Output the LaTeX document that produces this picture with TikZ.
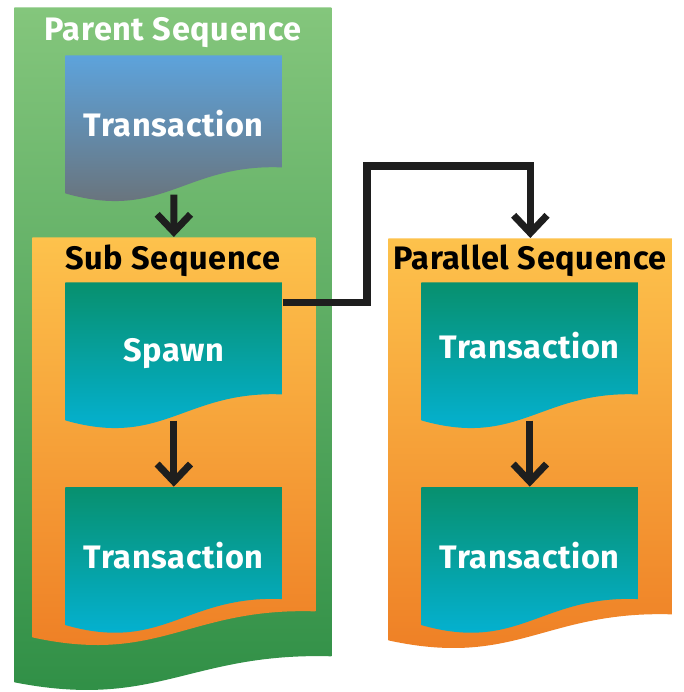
\documentclass[tikz,border=0pt]{standalone}
\usepackage{fontspec}
\setmainfont{Fira Sans}[LetterSpace=2]
\usetikzlibrary{calc}
\usetikzlibrary{positioning}
\usetikzlibrary{arrows.meta}

\definecolor{grnTop}{HTML}{84C67C}
\definecolor{grnBot}{HTML}{2E8E45}
\definecolor{orgTop}{HTML}{FDC24C}
\definecolor{orgBot}{HTML}{EE7D24}
\definecolor{tealTop}{HTML}{07906E}
\definecolor{tealBot}{HTML}{04B5DD}
\definecolor{bluTop}{HTML}{5DA3DC}
\definecolor{bluBot}{HTML}{6B6E70}
\definecolor{ink}{HTML}{1E1E1E}

% box with a wavy bottom edge, filled with a vertical gradient
\tikzset{
  wavebox/.style 2 args={
    inner sep=0pt, anchor=north west,
    path picture={
      \shade[top color=#1, bottom color=#2]
        let \p1=(path picture bounding box.south west),
            \p2=(path picture bounding box.north east) in
        (\x1,\y2) -- (\x2,\y2) -- (\x2,{\y1+19.3pt})
        .. controls ({\x1+0.55*(\x2-\x1)},{\y1+21.6pt}) and ({\x1+0.45*(\x2-\x1)},{\y1-11.4pt}) ..
        (\x1,{\y1+4.5pt}) -- cycle;
    }},
  doc/.style={wavebox={#1Top}{#1Bot}, font=\bfseries\fontsize{18.5}{20}\selectfont,
    text=white, text depth=0.2cm, minimum width=4.34cm, minimum height=2.92cm},
  seqtitle/.style={font=\bfseries\fontsize{18.5}{20}\selectfont},
  flow/.style={draw=ink, line width=4pt, -{Straight Barb[length=10pt, width=19pt]}}
}

\begin{document}
\begin{tikzpicture}[x=0.02cm, y=-0.02cm]
  \useasboundingbox (0,0) rectangle (683,692);

  % parent sequence
  \node[wavebox={grnTop}{grnBot}, minimum width=6.34cm, minimum height=13.66cm] (parent) at (14,7) {};
  \node[seqtitle, text=white] (parentlbl) at (173,33) {Parent Sequence};
  \node[doc=blu] (ptrans) at (65,55) {Transaction};

  % sub sequence
  \node[wavebox={orgTop}{orgBot}, minimum width=5.66cm, minimum height=8.16cm] (sub) at (32,237) {};
  \node[seqtitle] (sublbl) at (173,261) {Sub Sequence};
  \node[doc=teal] (spawn) at (65,282) {Spawn};
  \node[doc=teal, below=1.16cm of spawn] (strans) {Transaction};

  % parallel sequence
  \node[wavebox={orgTop}{orgBot}, minimum width=5.68cm, minimum height=8.2cm] (par) at (388,238) {};
  \node[seqtitle] (parlbl) at (530,261) {Parallel Sequence};
  \node[doc=teal, text depth=0.4cm] (ptransa) at (421,282) {Transaction};
  \node[doc=teal, below=1.16cm of ptransa] (ptransb) {Transaction};

  \coordinate (turn) at (367,166);

  \draw[flow, shorten <=-0.14cm] (ptrans.south) -- (sub.north);
  \draw[flow, shorten <=-0.16cm] (spawn.south) -- (strans.north);
  \draw[flow, shorten <=-0.16cm] (ptransa.south) -- (ptransb.north);
  \draw[flow, line join=miter] (spawn.26) -| (turn) -| (par.north);
\end{tikzpicture}
\end{document}
